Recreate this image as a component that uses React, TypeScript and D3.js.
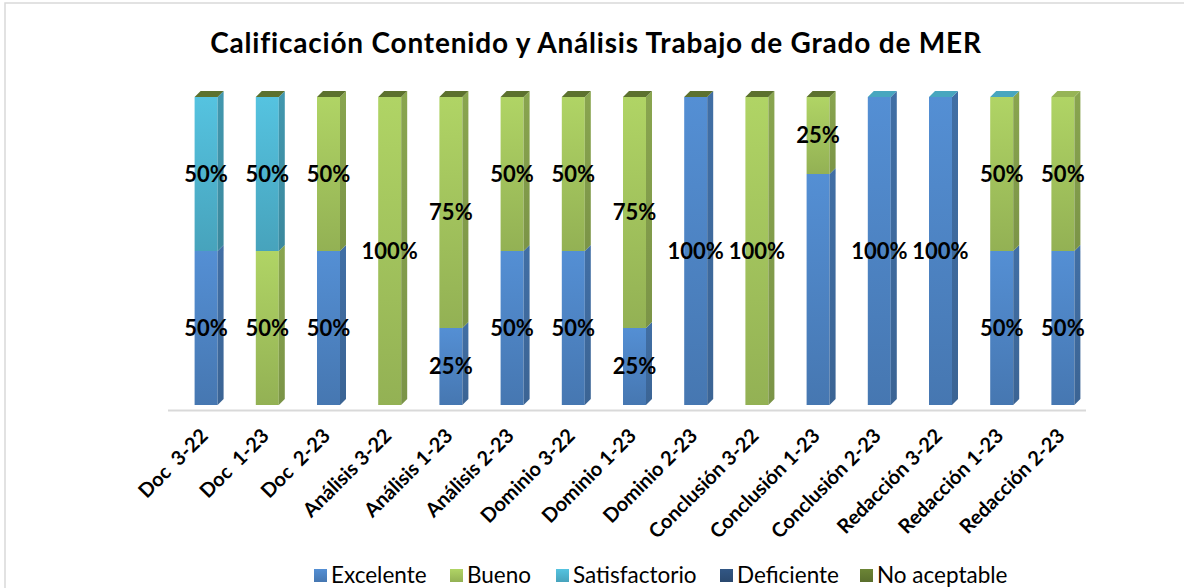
import * as d3 from "d3"
import { useEffect, useRef } from "react"

const categories = [
  "Doc  3-22",
  "Doc  1-23",
  "Doc  2-23",
  "Análisis 3-22",
  "Análisis 1-23",
  "Análisis 2-23",
  "Dominio 3-22",
  "Dominio 1-23",
  "Dominio 2-23",
  "Conclusión 3-22",
  "Conclusión 1-23",
  "Conclusión 2-23",
  "Redacción 3-22",
  "Redacción 1-23",
  "Redacción 2-23",
]

// null = empty cell (no zero-height segment drawn on top)
const excelente = [0.5, 0, 0.5, 0, 0.25, 0.5, 0.5, 0.25, 1, 0, 0.75, 1, 1, 0.5, 0.5]
const bueno = [0, 0.5, 0.5, 1, 0.75, 0.5, 0.5, 0.75, 0, 1, 0.25, 0, 0, 0.5, 0.5]
const satisfactorio = [0.5, 0.5, 0, 0, 0, 0, 0, 0, 0, 0, 0, 0, 0, 0, null]
const deficiente = [0, 0, 0, 0, 0, 0, 0, 0, 0, 0, 0, null, null, null, null]
const noAceptable = [0, 0, 0, 0, 0, 0, 0, 0, 0, 0, 0, null, null, null, null]

const seriesNames = ["Excelente", "Bueno", "Satisfactorio", "Deficiente", "No aceptable"]
const seriesValues = [excelente, bueno, satisfactorio, deficiente, noAceptable]
const seriesColors = ["#4a7ebb", "#9bbb59", "#4bacc6", "#2c4d75", "#5f7530"]

// labels Excel left hidden
const hiddenLabels = [["Excelente", "Conclusión 1-23"]]

const W = 1184
const H = 588

export default function App() {
  const svgRef = useRef<SVGSVGElement | null>(null)

  useEffect(() => {
    if (!svgRef.current) return
    const svg = d3.select(svgRef.current)
    svg.selectAll("*").remove()

    const font = "Lato, 'Open Sans', sans-serif"

    // chart frame
    svg
      .append("rect")
      .attr("x", 5)
      .attr("y", 3)
      .attr("width", W + 20)
      .attr("height", H + 20)
      .attr("fill", "#fff")
      .attr("stroke", "#d9d9d9")
      .attr("stroke-width", 1.5)

    const defs = svg.append("defs")
    seriesColors.forEach((c, i) => {
      const g = defs
        .append("linearGradient")
        .attr("id", `front-${i}`)
        .attr("x1", 0)
        .attr("y1", 0)
        .attr("x2", 0)
        .attr("y2", 1)
      g.append("stop").attr("offset", "0%").attr("stop-color", d3.color(c)!.brighter(0.35).formatHex())
      g.append("stop").attr("offset", "100%").attr("stop-color", d3.color(c)!.darker(0.15).formatHex())
      const h = defs
        .append("linearGradient")
        .attr("id", `side-${i}`)
        .attr("x1", 0)
        .attr("y1", 0)
        .attr("x2", 0)
        .attr("y2", 1)
      h.append("stop").attr("offset", "0%").attr("stop-color", d3.color(c)!.darker(0.35).formatHex())
      h.append("stop").attr("offset", "100%").attr("stop-color", d3.color(c)!.darker(0.65).formatHex())
    })

    const x = d3.scaleBand().domain(categories).range([168, 1086]).padding(0)
    const y = d3.scaleLinear().domain([0, 1]).range([405, 97])

    const barW = 23
    const depth = 6
    const frontX = (c: string) => x(c)! + x.bandwidth() / 2 - 4

    // axis line
    svg
      .append("line")
      .attr("x1", x.range()[0])
      .attr("x2", x.range()[1])
      .attr("y1", 410.5)
      .attr("y2", 410.5)
      .attr("stroke", "#d9d9d9")
      .attr("stroke-width", 2)

    const bars = svg.append("g")
    const labels = svg.append("g")

    categories.forEach((cat, ci) => {
      let acc = 0
      let topSeries = 0
      const x0 = frontX(cat)
      seriesValues.forEach((vals, si) => {
        const v = vals[ci]
        if (v === null) return
        topSeries = si
        if (v <= 0) return
        const yTop = y(acc + v)
        const yBot = y(acc)
        bars
          .append("rect")
          .attr("x", x0)
          .attr("y", yTop)
          .attr("width", barW)
          .attr("height", yBot - yTop)
          .attr("fill", `url(#front-${si})`)
        bars
          .append("path")
          .attr(
            "d",
            `M${x0 + barW},${yTop} L${x0 + barW + depth},${yTop - depth} L${x0 + barW + depth},${yBot - depth} L${x0 + barW},${yBot} Z`,
          )
          .attr("fill", `url(#side-${si})`)
        const hidden = hiddenLabels.some(([s, c]) => s === seriesNames[si] && c === cat)
        if (!hidden) {
          labels
            .append("text")
            .attr("x", x0 + barW / 2)
            .attr("y", (yTop + yBot) / 2)
            .attr("dy", "0.36em")
            .attr("text-anchor", "middle")
            .style("font", `bold 22px ${font}`)
            .attr("fill", "#000")
            .text(`${Math.round(v * 100)}%`)
        }
        acc += v
      })
      // top cap coloured by the topmost series
      const yT = y(acc)
      const capColor = d3.color(seriesColors[topSeries])!.darker(0.1).formatHex()
      bars
        .append("path")
        .attr(
          "d",
          `M${x0},${yT} L${x0 + depth},${yT - depth} L${x0 + barW + depth},${yT - depth} L${x0 + barW},${yT} Z`,
        )
        .attr("fill", capColor)
    })

    // x tick labels
    svg
      .append("g")
      .selectAll("text")
      .data(categories)
      .enter()
      .append("text")
      .attr("transform", (d) => `translate(${frontX(d) + barW / 2 + 3},437) rotate(-45)`)
      .attr("text-anchor", "end")
      .style("font", `bold 20px ${font}`)
      .style("white-space", "pre")
      .attr("fill", "#000")
      .text((d) => d)

    // title
    svg
      .append("text")
      .attr("x", 596)
      .attr("y", 53)
      .attr("text-anchor", "middle")
      .style("font", `bold 28px ${font}`)
      .style("letter-spacing", "0.8px")
      .attr("fill", "#000")
      .text("Calificación Contenido y Análisis Trabajo de Grado de MER")

    // legend
    const legendX = [314, 450, 556, 720, 860]
    const legend = svg.append("g")
    seriesNames.forEach((name, i) => {
      legend
        .append("rect")
        .attr("x", legendX[i])
        .attr("y", 569)
        .attr("width", 13)
        .attr("height", 13)
        .attr("fill", `url(#front-${i})`)
      legend
        .append("text")
        .attr("x", legendX[i] + 17)
        .attr("y", 583)
        .style("font", `22.5px ${font}`)
        .attr("fill", "#000")
        .text(name)
    })
  }, [])

  return (
    <div style={{ position: "absolute", left: 0, top: 0 }}>
      <svg ref={svgRef} width={W} height={H} style={{ display: "block" }} />
    </div>
  )
}
